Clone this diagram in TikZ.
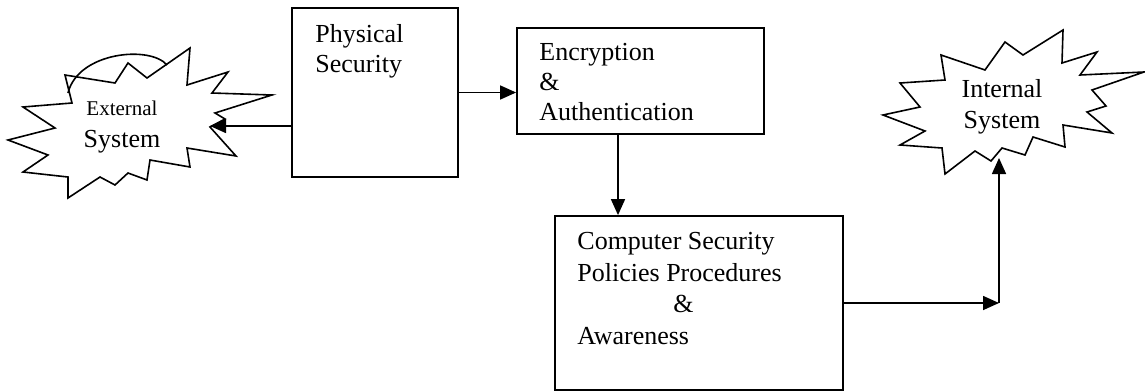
\documentclass[tikz,border=0pt]{standalone}
\usepackage{fontspec}
\setmainfont{Liberation Serif}
\usetikzlibrary{arrows.meta}
\tikzset{
	secbox/.style = {
		rectangle,
		draw=black,
		line width=0.9pt,
		inner sep=0pt
	},
	boxtext/.style = {
		align=left,
		inner sep=0pt,
		anchor=north west,
		font=\fontsize{13}{15}\selectfont
	},
	startext/.style = {
		align=center,
		inner sep=0pt,
		anchor=north,
		font=\fontsize{13}{15.75}\selectfont
	},
	starline/.style = {
		draw=black,
		line width=0.8pt,
		line join=miter
	},
	link/.style = {
		->,
		line width=0.8pt
	}
}
\begin{document}
\begin{tikzpicture}[x=0.5pt,y=-0.5pt,>={Triangle[length=8pt,width=7pt]}]
\useasboundingbox (0,0) rectangle (1145,391);
% external system star
\draw [starline] (65,75) -- (115,83) -- (128,63) -- (147,78) -- (190,48) -- (187,85)
	-- (228,72) -- (212,93) -- (272,95) -- (215,113) -- (225,119) -- (210,127)
	-- (236,156) -- (187,148) -- (190,167) -- (150,160) -- (147,180) -- (128,173)
	-- (115,185) -- (100,177) -- (68,198) -- (68,177) -- (23,172) -- (48,155)
	-- (8,140) -- (55,128) -- (23,107) -- (72,103) -- cycle;
\draw [starline] (68,93) .. controls (78,52) and (150,45) .. (167,65);
\node [startext] (ext) at (122,100.7) {{\fontsize{10.5}{12}\selectfont External}\\System};
% internal system star
\draw [starline] (883,115) -- (920,107) -- (900,83) -- (945,80) -- (941,55) -- (985,70)
	-- (1005,42) -- (1023,55) -- (1063,30) -- (1062,63) -- (1097,52) -- (1080,75)
	-- (1144,72) -- (1092,90) -- (1106,106) -- (1087,112) -- (1112,133) -- (1063,125)
	-- (1065,147) -- (1033,137) -- (1025,155) -- (1002,148) -- (991,161) -- (975,151)
	-- (945,174) -- (942,148) -- (900,145) -- (925,131) -- cycle;
\node [startext] (int) at (1002,78.7) {Internal\\System};
% boxes
\node [secbox, minimum width=83pt, minimum height=84.5pt] (phys) at (375,92.5) {};
\node [secbox, minimum width=123.5pt, minimum height=53pt] (enc) at (640.5,81) {};
\node [secbox, minimum width=144pt, minimum height=87pt] (comp) at (699,303) {};
\node [boxtext] (physlabel) at (315,24) {Physical\\Security};
\node [boxtext] (enclabel) at (539,43) {Encryption\\\&\\Authentication};
\node [boxtext, font=\fontsize{13}{15.75}\selectfont] (complabel) at (577,232)
	{Computer Security\\Policies Procedures\\\hspace*{48pt}\&\\Awareness};
% connectors
\coordinate (physout) at (292,126);
\coordinate (exttip) at (210,126);
\coordinate (encout) at (618,134);
\coordinate (turn) at (999,303);
\coordinate (inttip) at (999,158);
\draw [link] (physout) -- (exttip);
\draw [link] (phys.east) -- (phys.east -| enc.west);
\draw [link] (encout) -- (encout |- comp.north);
\draw [link] (comp.east) -- (turn);
\draw [link] (turn) -- (inttip);
\end{tikzpicture}
\end{document}
